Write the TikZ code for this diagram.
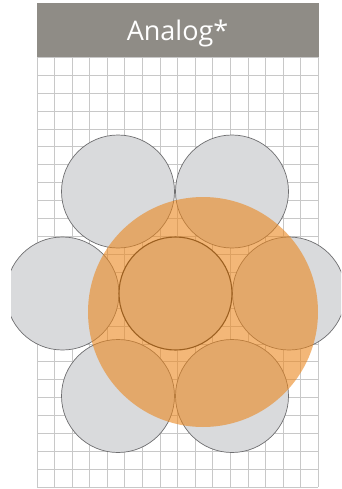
\documentclass[tikz,border=0pt]{standalone}
\usepackage{fontspec}
\setmainfont{Open Sans}
\definecolor{headgray}{RGB}{143,140,134}
\definecolor{gridgray}{RGB}{200,200,200}
\definecolor{ballgray}{RGB}{217,218,220}
\definecolor{ballline}{RGB}{110,110,112}
\definecolor{orangefill}{RGB}{235,135,30}
\begin{document}
\begin{tikzpicture}[x=1pt,y=-1pt,
  gridline/.style={draw=gridgray,line width=0.9pt},
  ball/.style={circle,fill=ballgray,draw=ballline,line width=0.7pt,minimum size=113pt,inner sep=0pt},
  coreball/.style={ball,draw=black!85,line width=1.1pt},
  bigorange/.style={circle,fill=orangefill,fill opacity=0.6,minimum size=230pt,inner sep=0pt},
  header/.style={fill=headgray,minimum width=281.3pt,minimum height=54pt,inner sep=0pt,anchor=north west},
  title/.style={text=white,font=\fontsize{27}{30}\selectfont,anchor=base,inner sep=0pt}]
\useasboundingbox (0,0) rectangle (341,489);
\fill[white] (0,0) rectangle (341,489);
\begin{scope}
\clip (11,0) rectangle (341,489);
% grid
\foreach \i in {0,...,16} \draw[gridline] ({37+17.58*\i},57.3) -- ({37+17.58*\i},487.3);
\foreach \j in {0,...,24} \draw[gridline] (37,{57.3+17.92*\j}) -- (318.3,{57.3+17.92*\j});
% header
\node[header] (head) at (37,3.3) {};
\node[title] (ttl) at (177.5,40.7) {Analog*};
% outer balls
\node[ball] (tl) at (118,191.5) {};
\node[ball] (tr) at (232,191.5) {};
\node[ball] (l) at (62.5,293.5) {};
\node[ball] (r) at (289,293.5) {};
\node[ball] (bl) at (118,396) {};
\node[ball] (br) at (232,396) {};
\node[coreball] (c) at (175.5,293.5) {};
% orange overlay
\node[bigorange] (o) at (203,312) {};
\end{scope}
\end{tikzpicture}
\end{document}
